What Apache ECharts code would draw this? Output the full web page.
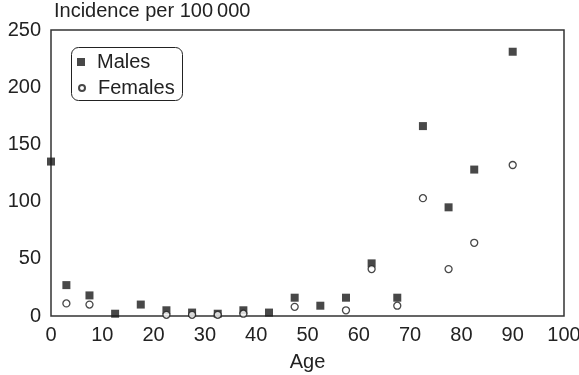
<!DOCTYPE html>
<html>
<head>
<meta charset="utf-8">
<script src="https://cdn.jsdelivr.net/npm/echarts@6/dist/echarts.min.js"></script>
<style>
html,body{margin:0;padding:0;background:#fff;}
#chart{width:579px;height:375px;}
</style>
</head>
<body>
<div id="chart"></div>
<script>
// 数据
var maleAge = [0, 3, 7.5, 12.5, 17.5, 22.5, 27.5, 32.5, 37.5, 42.5, 47.5, 52.5, 57.5, 62.5, 67.5, 72.5, 77.5, 82.5, 90];
var maleVal = [135, 27, 18, 2, 10, 5, 3, 2, 5, 3, 16, 9, 16, 46, 16, 166, 95, 128, 231];
var femaleAge = [3, 7.5, 22.5, 27.5, 32.5, 37.5, 47.5, 57.5, 62.5, 67.5, 72.5, 77.5, 82.5, 90];
var femaleVal = [11, 10, 1, 1, 1, 2, 8, 5, 41, 9, 103, 41, 64, 132];
var xTicks = [0, 10, 20, 30, 40, 50, 60, 70, 80, 90, 100];
var yTicks = [0, 50, 100, 150, 200, 250];

function pairs(xs, ys){
    var out = [];
    for (var i = 0; i < xs.length; i++) {
        out.push([xs[i], ys[i]]);
    }
    return out;
}

var chart = echarts.init(document.getElementById('chart'));
var font = 'Liberation Sans, Arial, Helvetica, sans-serif';
var txt = '#222';

var option = {
    animation: false,
    textStyle: { fontFamily: font },
    title: {
        text: 'Incidence per 100\u2009000',
        left: 54,
        top: 1,
        padding: 0,
        textStyle: { fontFamily: font, fontSize: 20, fontWeight: 'normal', color: txt }
    },
    // 图例框
    graphic: [{
        type: 'rect',
        left: 71,
        top: 47,
        shape: { width: 111, height: 53, r: 7 },
        style: { fill: 'transparent', stroke: '#222', lineWidth: 1 },
        z: 10
    }],
    legend: [{
        left: 77,
        top: 52,
        padding: 0,
        itemWidth: 8,
        itemHeight: 8,
        textStyle: { fontFamily: font, fontSize: 20, color: txt, padding: [0, 0, 0, 7] },
        data: ['Males']
    }, {
        left: 78,
        top: 78,
        padding: 0,
        itemWidth: 6,
        itemHeight: 6,
        textStyle: { fontFamily: font, fontSize: 20, color: txt, padding: [0, 0, 0, 8] },
        data: ['Females']
    }],
    grid: {
        left: 51,
        right: 15,
        top: 30,
        bottom: 59,
        outerBoundsMode: 'none',
        containLabel: false,
        show: true,
        borderColor: '#333',
        borderWidth: 1.5,
        backgroundColor: 'transparent'
    },
    xAxis: {
        type: 'value',
        min: 0,
        max: 100,
        interval: 10,
        name: 'Age',
        nameLocation: 'middle',
        nameGap: 36,
        nameTextStyle: { fontFamily: font, fontSize: 20, color: txt },
        axisLine: { show: false },
        axisTick: { show: false },
        splitLine: { show: false },
        axisLabel: { fontFamily: font, fontSize: 20, color: txt, margin: 9 }
    },
    yAxis: {
        type: 'value',
        min: 0,
        max: 250,
        interval: 50,
        axisLine: { show: false },
        axisTick: { show: false },
        splitLine: { show: false },
        axisLabel: { fontFamily: font, fontSize: 20, color: txt, margin: 10 }
    },
    series: [{
        name: 'Males',
        type: 'scatter',
        symbol: 'rect',
        symbolSize: 8,
        itemStyle: { color: '#1a1a1a' },
        data: pairs(maleAge, maleVal),
        z: 2
    }, {
        name: 'Females',
        type: 'scatter',
        symbol: 'circle',
        symbolSize: 7,
        itemStyle: { color: '#fff', borderColor: '#1a1a1a', borderWidth: 1.3 },
        data: pairs(femaleAge, femaleVal),
        z: 3
    }]
};

chart.setOption(option);
</script>
</body>
</html>
